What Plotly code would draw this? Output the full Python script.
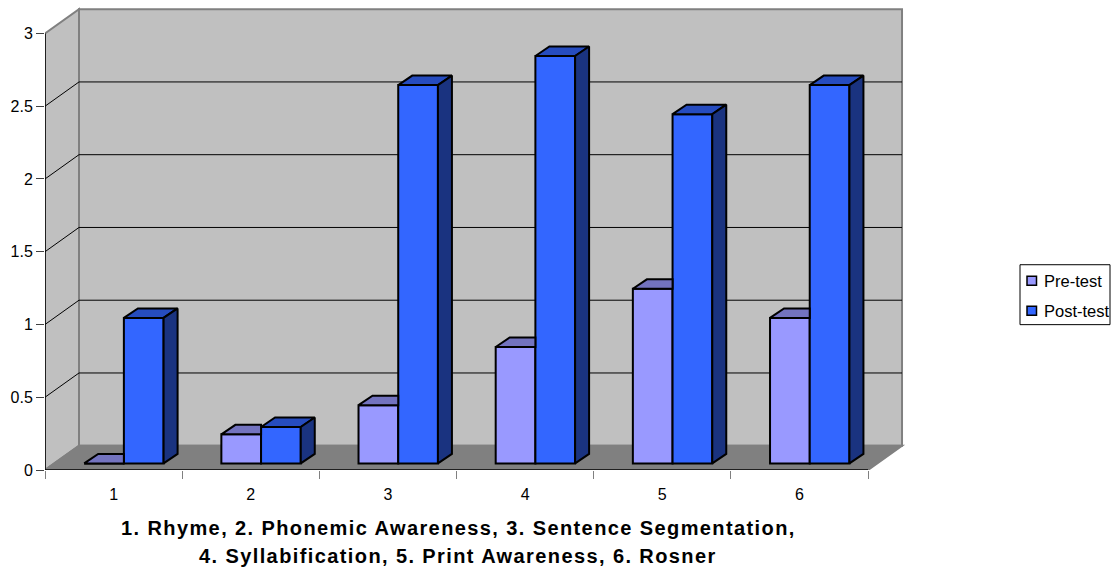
import plotly.graph_objects as go

# Scores per measure
categories = ["1", "2", "3", "4", "5", "6"]
pre_test = [0, 0.2, 0.4, 0.8, 1.2, 1.0]
post_test = [1.0, 0.25, 2.6, 2.8, 2.4, 2.6]
value_ticks = [0, 0.5, 1, 1.5, 2, 2.5, 3]
value_labels = ["0", "0.5", "1", "1.5", "2", "2.5", "3"]
title_lines = [
    "1. Rhyme, 2. Phonemic Awareness, 3. Sentence Segmentation,",
    "4. Syllabification, 5. Print Awareness, 6. Rosner",
]
series_names = ["Pre-test", "Post-test"]

# Page geometry in pixels
W, H = 1112, 569
PLOT_L, PLOT_R, PLOT_T, PLOT_B = 45, 907, 4, 470.5
UNIT_X = 137.17  # pixels per category
UNIT_Y = 145.67  # pixels per value unit
X_MAX = (PLOT_R - PLOT_L) / UNIT_X
Y_MAX = (PLOT_B - PLOT_T) / UNIT_Y

# Oblique projection offsets, in axis units
WALL_DX, WALL_DY = 34 / UNIT_X, 24.3 / UNIT_Y
BAR_X0, BAR_Y0 = 10.3 / UNIT_X, 6.6 / UNIT_Y
BAR_DX, BAR_DY = 14 / UNIT_X, 9.5 / UNIT_Y
BAR_W = 39.7 / UNIT_X

PRE_FRONT, PRE_TOP = "#9999FF", "#7373BF"
POST_FRONT, POST_TOP, POST_SIDE = "#3366FF", "#264CBF", "#1A3380"
WALL, FLOOR, EDGE = "#C0C0C0", "#808080", "#808080"
FONT_FAMILY = "Liberation Sans, Arial, sans-serif"
LABEL_FONT = dict(family=FONT_FAMILY, size=16, color="#000000")
n = len(categories)

fig = go.Figure()


def poly(xs, ys, fill):
    fig.add_trace(go.Scatter(
        x=xs + xs[:1], y=ys + ys[:1], mode="lines", fill="toself", fillcolor=fill,
        line=dict(color="#000000", width=2), showlegend=False, hoverinfo="skip",
    ))


def rule(xs, ys, color, width):
    fig.add_trace(go.Scatter(
        x=xs, y=ys, mode="lines", line=dict(color=color, width=width),
        showlegend=False, hoverinfo="skip", cliponaxis=False,
    ))


# Walls and floor sit behind everything
wall_shapes = [
    (["M 0 0", f"L {WALL_DX} {WALL_DY}", f"L {WALL_DX} {3 + WALL_DY}", "L 0 3 Z"], WALL),
    ([f"M {WALL_DX} {WALL_DY}", f"L {n + WALL_DX} {WALL_DY}",
      f"L {n + WALL_DX} {3 + WALL_DY}", f"L {WALL_DX} {3 + WALL_DY} Z"], WALL),
    (["M 0 0", f"L {n} 0", f"L {n + WALL_DX} {WALL_DY}", f"L {WALL_DX} {WALL_DY} Z"], FLOOR),
]
shapes = [
    dict(type="path", path=" ".join(p), xref="x", yref="y", fillcolor=c,
         line=dict(color=EDGE, width=2), layer="below")
    for p, c in wall_shapes
]
for tick in value_ticks[1:-1]:
    shapes.append(dict(
        type="path", xref="x", yref="y", layer="below",
        path=f"M 0 {tick} L {WALL_DX} {tick + WALL_DY} L {n + WALL_DX} {tick + WALL_DY}",
        line=dict(color="#000000", width=1),
    ))

# Front faces of the columns
centers = [i + 0.5 + BAR_X0 for i in range(n)]
fig.add_trace(go.Bar(
    name=series_names[0], x=[c - BAR_W / 2 for c in centers], y=pre_test, base=BAR_Y0,
    width=BAR_W, marker=dict(color=PRE_FRONT, line=dict(color="#000000", width=2)),
))
fig.add_trace(go.Bar(
    name=series_names[1], x=[c + BAR_W / 2 for c in centers], y=post_test, base=BAR_Y0,
    width=BAR_W, marker=dict(color=POST_FRONT, line=dict(color="#000000", width=2)),
))

# Top and side faces, projected from the same values
for c, pre, post in zip(centers, pre_test, post_test):
    x0, xm, x1 = c - BAR_W, c, c + BAR_W
    yp, yq = BAR_Y0 + pre, BAR_Y0 + post
    poly([x0, xm, xm, x0 + BAR_DX], [yp, yp, yp + BAR_DY, yp + BAR_DY], PRE_TOP)
    poly([xm, x1, x1 + BAR_DX, xm + BAR_DX], [yq, yq, yq + BAR_DY, yq + BAR_DY], POST_TOP)
    poly([x1, x1 + BAR_DX, x1 + BAR_DX, x1],
         [BAR_Y0, BAR_Y0 + BAR_DY, yq + BAR_DY, yq], POST_SIDE)

# Front axis lines
rule([0, 0], [0, 3], "#000000", 1.5)
rule([0, n], [0, 0], "#000000", 1.5)

# Key at the right of the chart
LEG_L, LEG_R, LEG_T, LEG_B = 1020, 1110, 265, 325
shapes.append(dict(type="rect", xref="paper", yref="paper",
                   x0=(LEG_L - PLOT_L) / (PLOT_R - PLOT_L), x1=(LEG_R - PLOT_L) / (PLOT_R - PLOT_L),
                   y0=(PLOT_B - LEG_B) / (PLOT_B - PLOT_T), y1=(PLOT_B - LEG_T) / (PLOT_B - PLOT_T),
                   line=dict(color="#000000", width=1), fillcolor="#FFFFFF"))
annotations = []
for name, fill, row_y in zip(series_names, [PRE_FRONT, POST_FRONT], [281, 311]):
    shapes.append(dict(type="rect", xref="paper", yref="paper",
                       x0=(1027 - PLOT_L) / (PLOT_R - PLOT_L), x1=(1036.5 - PLOT_L) / (PLOT_R - PLOT_L),
                       y0=(PLOT_B - row_y - 4.5) / (PLOT_B - PLOT_T),
                       y1=(PLOT_B - row_y + 4.5) / (PLOT_B - PLOT_T),
                       line=dict(color="#000000", width=1.5), fillcolor=fill))
    annotations.append(dict(
        text=name, xref="paper", yref="paper", showarrow=False, xanchor="left", yanchor="middle",
        x=(1041.5 - PLOT_L) / (PLOT_R - PLOT_L), y=(PLOT_B - row_y) / (PLOT_B - PLOT_T),
        font=dict(family=FONT_FAMILY, size=16.5, color="#000000"),
    ))

# Caption under the category axis
for line, row_y in zip(title_lines, [529, 557]):
    annotations.append(dict(
        text=f'<span style="letter-spacing:1.4px"><b>{line}</b></span>',
        xref="paper", yref="paper", showarrow=False, xanchor="center", yanchor="middle",
        x=(458 - PLOT_L) / (PLOT_R - PLOT_L), y=(PLOT_B - row_y) / (PLOT_B - PLOT_T),
        font=dict(family=FONT_FAMILY, size=20, color="#000000"),
    ))

fig.update_layout(
    width=W, height=H, autosize=False, barmode="overlay", showlegend=False,
    margin=dict(l=PLOT_L, r=W - PLOT_R, t=PLOT_T, b=H - PLOT_B, pad=0),
    plot_bgcolor="#FFFFFF", paper_bgcolor="#FFFFFF",
    shapes=shapes, annotations=annotations, font=LABEL_FONT,
    xaxis=dict(
        range=[0, X_MAX], showgrid=False, zeroline=False, showline=False,
        tickmode="array", tickvals=[i + 0.5 for i in range(n)], ticktext=categories,
        ticks="", tickfont=LABEL_FONT, ticklabelstandoff=13,
        minor=dict(tickmode="array", tickvals=list(range(n + 1)), ticks="outside",
                   ticklen=8, tickwidth=1, tickcolor="#808080", showgrid=False),
    ),
    yaxis=dict(
        range=[0, Y_MAX], showgrid=False, zeroline=False, showline=False,
        tickmode="array", tickvals=value_ticks, ticktext=value_labels,
        ticks="outside", ticklen=8, tickwidth=1, tickcolor="#404040", tickfont=LABEL_FONT,
    ),
)
fig.write_html("out.html")
